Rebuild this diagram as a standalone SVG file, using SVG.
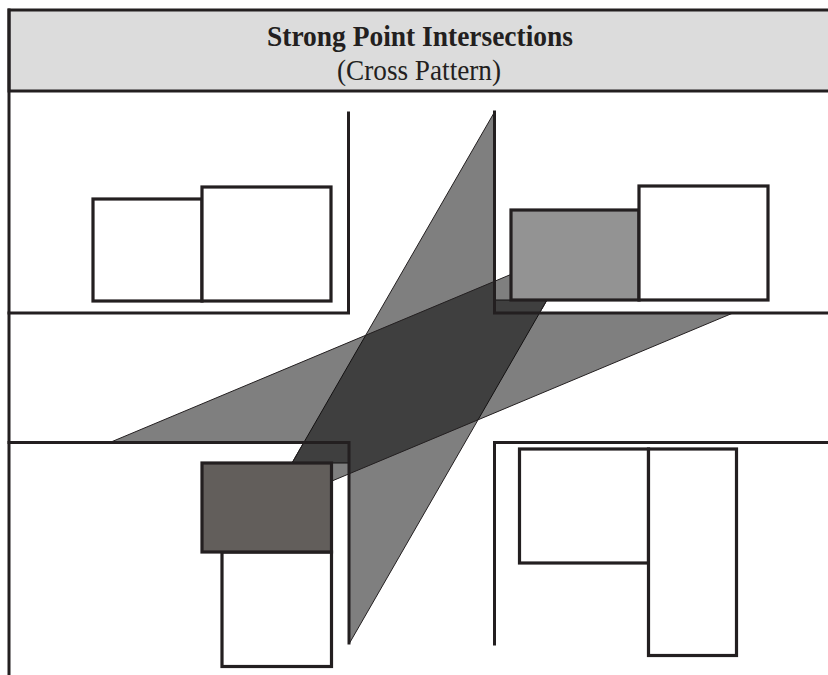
<svg xmlns="http://www.w3.org/2000/svg" width="828" height="675" viewBox="0 0 828 675">
<style>
.w{stroke:#231f20;stroke-width:3;fill:none;stroke-linecap:square}
.r{stroke:#231f20;stroke-width:3.2;fill:#fff}
.strip{fill:#000;fill-opacity:0.5;stroke:#231f20;stroke-width:1;stroke-linejoin:miter}
.t1{font-family:'Liberation Serif','Times New Roman',serif;font-weight:bold;font-size:30px;fill:#231f20}
.t2{font-family:'Liberation Serif','Times New Roman',serif;font-size:30px;fill:#231f20}
</style>
<rect x="0" y="0" width="828" height="675" fill="#fff"/>
<g id="header">
<rect x="9" y="10" width="822" height="81" fill="#dcdcdc" stroke="#231f20" stroke-width="3"/>
<text class="t1" x="420" y="46" text-anchor="middle" textLength="306" lengthAdjust="spacingAndGlyphs">Strong Point Intersections</text>
<text class="t2" x="419" y="80" text-anchor="middle" textLength="164" lengthAdjust="spacingAndGlyphs">(Cross Pattern)</text>
</g>
<g id="fields">
<polygon class="strip" points="494.5,112 292,463 349,463 349,644 547,300 494.5,300"/>
<polygon class="strip" points="111,442 304,442 292,463 331.5,463 331.5,481.2 733,313 539.5,313 547,300 511,300 511,274.4"/>
</g>
<g id="frame">
<line class="w" x1="9" y1="10" x2="9" y2="675"/>
</g>
<g id="room-top-left">
<polyline class="w" points="9,313 348.5,313 348.5,113"/>
<rect class="r" x="93" y="199" width="109" height="102"/>
<rect class="r" x="202" y="187" width="129" height="114"/>
</g>
<g id="room-top-right">
<polyline class="w" points="494.5,112 494.5,313 828,313"/>
<rect class="r" x="511" y="210" width="128" height="90" style="fill:#939393"/>
<rect class="r" x="639" y="186" width="129" height="114"/>
</g>
<g id="room-bottom-left">
<polyline class="w" points="9,442.5 349,442.5 349,643"/>
<rect class="r" x="222" y="552" width="109.5" height="114.5"/>
<rect class="r" x="202" y="463" width="129.5" height="89" style="fill:#625e5b"/>
</g>
<g id="room-bottom-right">
<polyline class="w" points="494.5,644 494.5,442.5 828,442.5"/>
<rect class="r" x="519.5" y="449" width="129" height="114"/>
<rect class="r" x="648.5" y="449" width="88" height="206.5"/>
</g>
</svg>
